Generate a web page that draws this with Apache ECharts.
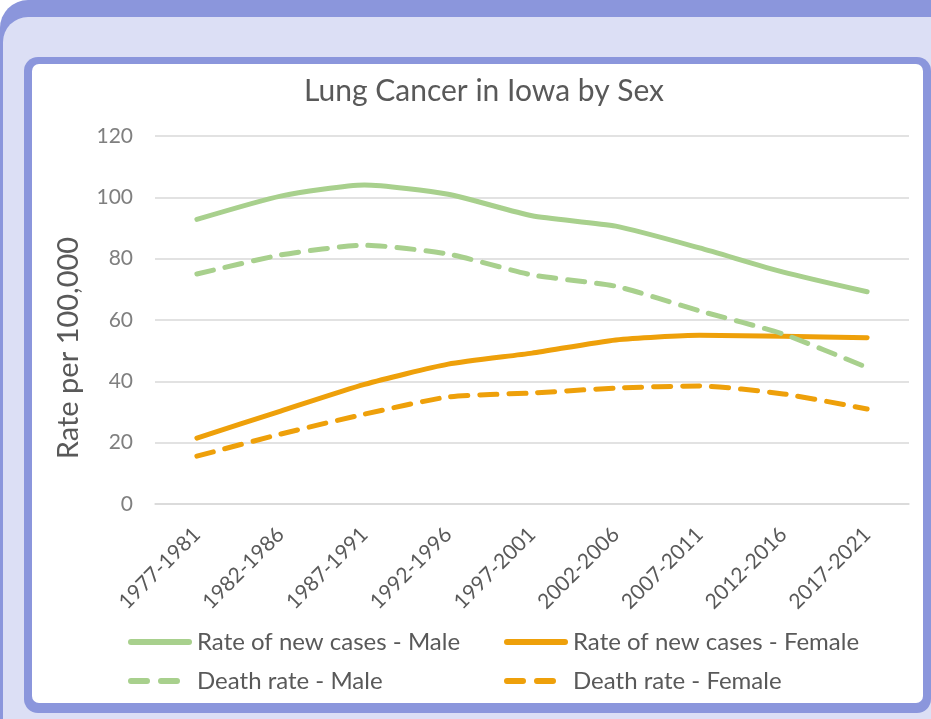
<!DOCTYPE html>
<html>
<head>
<meta charset="utf-8">
<script src="https://cdn.jsdelivr.net/npm/echarts@6/dist/echarts.min.js"></script>
<style>
html,body{margin:0;padding:0;background:#ffffff;}
#c{width:931px;height:719px;}
</style>
</head>
<body>
<div id="c"></div>
<script>
var categories = ['1977-1981','1982-1986','1987-1991','1992-1996','1997-2001','2002-2006','2007-2011','2012-2016','2017-2021'];
var newMale   = [92.8, 100.4, 104.0, 101.0, 94.0, 90.6, 83.5, 75.6, 69.2];
var deathMale = [75.0, 81.2, 84.4, 81.5, 74.7, 71.0, 63.0, 55.4, 44.5];
var newFemale = [21.5, 30.3, 39.0, 45.6, 49.2, 53.5, 55.0, 54.7, 54.2];
var deathFemale = [15.6, 22.8, 29.3, 34.9, 36.2, 37.8, 38.5, 35.9, 31.0];
var seriesNames = ['Rate of new cases - Male','Rate of new cases - Female','Death rate - Male','Death rate - Female'];
var yTicks = [0, 20, 40, 60, 80, 100, 120];

var GREEN = '#a8d08d';
var ORANGE = '#eea00a';
var FONT = 'Lato';

var SOLID_ICON = 'path://M3,0 L61,0 A3,3 0 0 1 61,6 L3,6 A3,3 0 0 1 3,0 Z';
var DASH_ICON = 'path://M3,0 L19,0 A3,3 0 0 1 19,6 L3,6 A3,3 0 0 1 3,0 Z M33,0 L49,0 A3,3 0 0 1 49,6 L33,6 A3,3 0 0 1 33,0 Z';

var chart = echarts.init(document.getElementById('c'));

function mkSeries(name, data, color, dashed, z) {
  return {
    name: name, type: 'line', data: data, smooth: 0.2,
    symbol: 'none', z: z,
    lineStyle: { color: color, width: 5, type: dashed ? [17, 12] : 'solid', cap: 'round', join: 'round' },
    itemStyle: { color: color, borderWidth: 0 }
  };
}
function mkLegend(name, dashed, left, top) {
  return {
    data: [name], left: left, top: top, padding: 0,
    icon: dashed ? DASH_ICON : SOLID_ICON,
    itemWidth: dashed ? 52 : 64, itemHeight: 6, itemGap: 0,
    itemStyle: { borderWidth: 0 },
    textStyle: { fontFamily: FONT, fontSize: 24, color: '#595959', padding: [0, 0, 0, dashed ? 12 : 0] },
    selectedMode: false
  };
}

var option = {
  animation: false,
  backgroundColor: 'transparent',
  graphic: [
    { type: 'rect', shape: { x: 0, y: 0, width: 1000, height: 1000, r: 28 }, style: { fill: '#8b96dc' }, z: -10, silent: true },
    { type: 'rect', shape: { x: 3, y: 17, width: 1000, height: 1000, r: 25 }, style: { fill: '#dcdff5' }, z: -9, silent: true },
    { type: 'rect', shape: { x: 24, y: 57, width: 907, height: 656, r: 14 }, style: { fill: '#8b96dc' }, z: -8, silent: true },
    { type: 'rect', shape: { x: 32, y: 64, width: 891, height: 639, r: 7 }, style: { fill: '#ffffff' }, z: -7, silent: true }
  ],
  title: {
    text: 'Lung Cancer in Iowa by Sex', left: 484, top: 76, textAlign: 'center', padding: 0,
    textStyle: { fontFamily: FONT, fontSize: 30, fontWeight: 'normal', color: '#595959' }
  },
  legend: [
    mkLegend(seriesNames[0], false, 128, 630),
    mkLegend(seriesNames[1], false, 504, 630),
    mkLegend(seriesNames[2], true, 128, 669),
    mkLegend(seriesNames[3], true, 504, 669)
  ],
  grid: { left: 155, top: 136, width: 754, height: 368, containLabel: false },
  xAxis: {
    type: 'category', data: categories, boundaryGap: true,
    axisLine: { show: true, lineStyle: { color: '#d9d9d9', width: 1.5 } },
    axisTick: { show: false },
    axisLabel: { rotate: 45, margin: 27, fontFamily: FONT, fontSize: 21, color: '#595959', interval: 0 }
  },
  yAxis: {
    type: 'value', min: 0, max: 120, interval: 20,
    name: 'Rate per 100,000', nameLocation: 'middle', nameGap: 72, nameRotate: 90,
    nameTextStyle: { fontFamily: FONT, fontSize: 29, color: '#595959', padding: [0, 56, 0, 0] },
    axisLine: { show: false }, axisTick: { show: false },
    axisLabel: { margin: 22, fontFamily: FONT, fontSize: 21, color: '#7f7f7f',
      formatter: function (v) { return yTicks.indexOf(v) >= 0 ? String(v) : ''; } },
    splitLine: { lineStyle: { color: '#d9d9d9', width: 1.5 } }
  },
  series: [
    mkSeries(seriesNames[0], newMale, GREEN, false, 4),
    mkSeries(seriesNames[1], newFemale, ORANGE, false, 3),
    mkSeries(seriesNames[2], deathMale, GREEN, true, 5),
    mkSeries(seriesNames[3], deathFemale, ORANGE, true, 2)
  ]
};
chart.setOption(option);
</script>
</body>
</html>
